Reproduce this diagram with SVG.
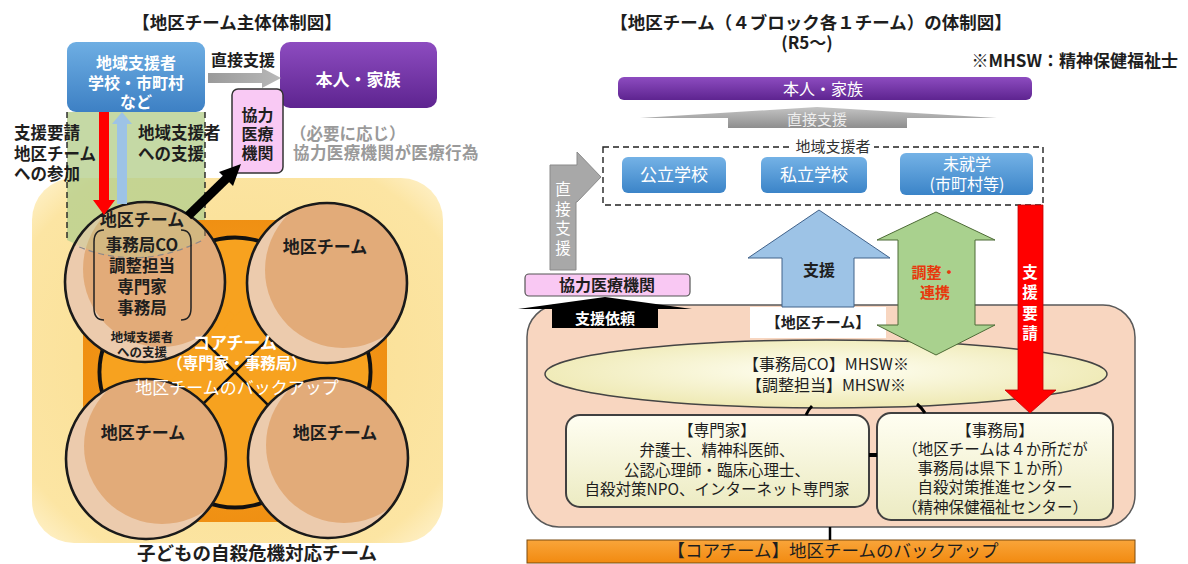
<svg xmlns="http://www.w3.org/2000/svg" width="1188" height="564" viewBox="0 0 1188 564">
<style>
.b{font-family:'Noto Sans CJK JP','Noto Sans',sans-serif;font-weight:700}
.r{font-family:'Noto Sans CJK JP','Noto Sans',sans-serif;font-weight:400}
.m{text-anchor:middle}
.w{fill:#ffffff}
.k{fill:#1e1e1e}
.dash{fill:none;stroke:#222;stroke-width:1.4;stroke-dasharray:6 4}
.dc{stroke:#1a1a1a;stroke-width:2.6;fill:none}
.lt{fill:#eccbad}
.dk{fill:#e2ab79}
.box{fill:url(#gBox);stroke:#404040;stroke-width:2}
.btn{fill:url(#gBtn)}
</style>
<defs>
<linearGradient id="gBlue" x1="0" y1="0" x2="0" y2="1"><stop offset="0" stop-color="#6eaee3"/><stop offset="1" stop-color="#3d80c4"/></linearGradient>
<linearGradient id="gPurple" x1="0" y1="0" x2="0" y2="1"><stop offset="0" stop-color="#8d4cc0"/><stop offset="1" stop-color="#5e2490"/></linearGradient>
<radialGradient id="gYellow" cx="0.5" cy="0.5" r="0.72"><stop offset="0" stop-color="#f9dc8e"/><stop offset="0.82" stop-color="#fce5a3"/><stop offset="1" stop-color="#fff5d6"/></radialGradient>
<radialGradient id="gOrange" cx="0.5" cy="0.5" r="0.7"><stop offset="0" stop-color="#f9a623"/><stop offset="1" stop-color="#ec870c"/></radialGradient>
<linearGradient id="gBtn" x1="0" y1="0" x2="0" y2="1"><stop offset="0" stop-color="#74b2e6"/><stop offset="1" stop-color="#3b84c8"/></linearGradient>
<radialGradient id="gEll" cx="0.5" cy="0.45" r="0.6"><stop offset="0" stop-color="#fffff4"/><stop offset="1" stop-color="#ede7ad"/></radialGradient>
<linearGradient id="gBox" x1="0" y1="0" x2="0" y2="1"><stop offset="0" stop-color="#fffef2"/><stop offset="1" stop-color="#ecebc2"/></linearGradient>
<linearGradient id="gGray" x1="0" y1="0" x2="0" y2="1"><stop offset="0" stop-color="#c4c4c4"/><stop offset="1" stop-color="#8e8e8e"/></linearGradient>
<linearGradient id="gGrayH" x1="0" y1="0" x2="1" y2="0"><stop offset="0" stop-color="#9a9a9a"/><stop offset="1" stop-color="#b8b8b8"/></linearGradient>
<linearGradient id="gBar" x1="0" y1="0" x2="0" y2="1"><stop offset="0" stop-color="#f9a53a"/><stop offset="1" stop-color="#f28a10"/></linearGradient>
<clipPath id="cc"><circle cx="0" cy="0" r="80"/></clipPath>
<clipPath id="ctl"><circle cx="145" cy="282" r="79"/></clipPath>
</defs>

<!-- ================= LEFT DIAGRAM ================= -->
<text class="b m k" x="237" y="29" font-size="17.5">【地区チーム主体体制図】</text>

<g id="left-team-frame">
<rect x="32" y="178" width="411" height="365" rx="42" fill="url(#gYellow)"/>
</g>

<g id="left-support-column">
<path d="M67,112 H205 V238 Q136,276 67,240 Z" fill="#b7cf8e" fill-opacity="0.8"/>
<line class="dash" x1="67" y1="112" x2="67" y2="242"/>
<line class="dash" x1="205" y1="112" x2="205" y2="232"/>
</g>

<g id="core-team">
<rect x="83" y="220" width="304" height="302" rx="46" fill="url(#gOrange)"/>
<g stroke="#111" stroke-width="5" fill="none">
<circle cx="235" cy="318" r="80"/><circle cx="180" cy="372" r="80"/><circle cx="290" cy="372" r="80"/><circle cx="235" cy="427" r="80"/>
</g>
<g fill="#f7a21f">
<circle cx="235" cy="318" r="78.6"/><circle cx="180" cy="372" r="78.6"/><circle cx="290" cy="372" r="78.6"/><circle cx="235" cy="427" r="78.6"/>
</g>
<path d="M160,297 L310,447 M310,297 L160,447" stroke="#111" stroke-width="2.6"/>
</g>

<g id="district-tl">
<g transform="translate(145,282)">
<circle class="lt" r="80"/>
<circle class="dk" cx="16" cy="-13" r="78" clip-path="url(#cc)"/>
</g>
<g clip-path="url(#ctl)">
<path d="M67,112 H205 V238 Q136,276 67,240 Z" fill="#b7cf8e" fill-opacity="0.35"/>
<path d="M70,243 Q136,274 203,240" fill="none" stroke="#8a8a8a" stroke-width="1.2" stroke-dasharray="6 4"/>
<line class="dash" x1="205" y1="200" x2="205" y2="236" stroke-opacity="0.6"/>
</g>
<circle class="dc" cx="145" cy="282" r="80"/>
<text class="b m k" x="142" y="226" font-size="17">地区チーム</text>
<path d="M104,230 Q94,230 94,242 V308 Q94,320 104,320 M181,230 Q191,230 191,242 V308 Q191,320 181,320" fill="none" stroke="#222" stroke-width="1.5"/>
<text class="b m k" x="142" y="251" font-size="16.5">事務局CO</text>
<text class="b m k" x="142" y="272" font-size="16.5">調整担当</text>
<text class="b m k" x="142" y="293" font-size="16.5">専門家</text>
<text class="b m k" x="142" y="314" font-size="16.5">事務局</text>
<text class="b m k" x="142" y="342" font-size="12.5">地域支援者</text>
<text class="b m k" x="142" y="357" font-size="12.5">への支援</text>
</g>

<g id="district-tr">
<g transform="translate(327,283)">
<circle class="lt" r="80"/>
<circle class="dk" cx="16" cy="-13" r="78" clip-path="url(#cc)"/>
<circle class="dc" r="80"/>
</g>
<text class="b m k" x="325" y="253" font-size="17">地区チーム</text>
</g>

<g id="district-bl">
<g transform="translate(146,459)">
<circle class="lt" r="80"/>
<circle class="dk" cx="16" cy="-13" r="78" clip-path="url(#cc)"/>
<circle class="dc" r="80"/>
</g>
<text class="b m k" x="143" y="439" font-size="17">地区チーム</text>
</g>

<g id="district-br">
<g transform="translate(328,458)">
<circle class="lt" r="80"/>
<circle class="dk" cx="16" cy="-13" r="78" clip-path="url(#cc)"/>
<circle class="dc" r="80"/>
</g>
<text class="b m k" x="335" y="439" font-size="17">地区チーム</text>
</g>

<g id="core-team-label">
<text class="b m w" x="235" y="349" font-size="17">コアチーム</text>
<text class="b m w" x="237" y="369" font-size="15.5">（専門家・事務局）</text>
<text class="r m w" x="237" y="394" font-size="17">地区チームのバックアップ</text>
</g>

<g id="local-supporters-left">
<rect x="67" y="42" width="138" height="70" rx="9" fill="url(#gBlue)"/>
<text class="b m w" x="136" y="69" font-size="16">地域支援者</text>
<text class="b m w" x="136" y="89" font-size="16">学校・市町村</text>
<text class="b m w" x="136" y="108" font-size="16">など</text>
</g>

<g id="person-family-left">
<rect x="280" y="42" width="157" height="66" rx="10" fill="url(#gPurple)"/>
<text class="b m w" x="358" y="86" font-size="17">本人・家族</text>
</g>

<g id="medical-left">
<rect x="232" y="89" width="51" height="84" rx="6" fill="#f9c9f4" stroke="#333" stroke-width="1.5"/>
<text class="b m k" x="257.5" y="121" font-size="16">協力</text>
<text class="b m k" x="257.5" y="140" font-size="16">医療</text>
<text class="b m k" x="257.5" y="159" font-size="16">機関</text>
</g>

<g id="medical-note">
<text class="b" x="290" y="140" font-size="16.5" fill="#9a9a9a">（必要に応じ）</text>
<text class="b" x="293" y="159" font-size="16.5" fill="#9a9a9a" letter-spacing="0.4">協力医療機関が医療行為</text>
</g>

<g id="left-connectors">
<polygon points="208,73 262,73 262,68 281,78 262,88 262,83 208,83" fill="url(#gGrayH)"/>
<text class="b m k" x="243" y="66" font-size="16">直接支援</text>
<polygon points="99,112 109,112 109,200 115,200 104,215 93,200 99,200" fill="#ff0000"/>
<polygon points="122,112 132,124 127,124 127,204 117,204 117,124 112,124" fill="#9dc3e6"/>
<text class="b k" x="14" y="139" font-size="16.5">支援要請</text>
<text class="b k" x="14" y="160" font-size="16.5">地区チーム</text>
<text class="b k" x="14" y="180" font-size="16.5">への参加</text>
<text class="b k" x="138" y="139" font-size="16.5">地域支援者</text>
<text class="b k" x="138" y="160" font-size="16.5">への支援</text>
<line x1="188" y1="216" x2="228" y2="177" stroke="#000" stroke-width="9"/>
<polygon points="241,164 233,186 219,172" fill="#000"/>
</g>

<text class="b m k" x="257" y="560" font-size="18.5">子どもの自殺危機対応チーム</text>

<!-- ================= RIGHT DIAGRAM ================= -->
<text class="b m k" x="811" y="29" font-size="17.5">【地区チーム（４ブロック各１チーム）の体制図】</text>
<text class="b m k" x="807" y="49" font-size="17">(R5～)</text>
<text class="b k" x="1178" y="67" font-size="17" text-anchor="end">※MHSW：精神保健福祉士</text>

<g id="person-family-right">
<rect x="618" y="77" width="414" height="23" rx="6" fill="url(#gPurple)"/>
<text class="r m w" x="823" y="95" font-size="16">本人・家族</text>
</g>

<g id="local-supporters-right">
<rect class="dash" x="603" y="147" width="440" height="58"/>
<rect x="792" y="140" width="82" height="14" fill="#ffffff"/>
<text class="r m" x="833" y="152" font-size="15" fill="#333">地域支援者</text>
</g>

<g id="public-school">
<rect class="btn" x="622" y="157" width="104" height="36" rx="6"/>
<text class="r m w" x="674" y="181" font-size="17">公立学校</text>
</g>
<g id="private-school">
<rect class="btn" x="761" y="157" width="106" height="36" rx="6"/>
<text class="r m w" x="814" y="181" font-size="17">私立学校</text>
</g>
<g id="preschool">
<rect class="btn" x="900" y="153" width="133" height="42" rx="6"/>
<text class="r m w" x="967" y="170" font-size="16">未就学</text>
<text class="r m w" x="967" y="190" font-size="16">(市町村等)</text>
</g>

<g id="medical-right">
<rect x="525" y="274" width="165" height="22" rx="4" fill="#f9c8f3" stroke="#555" stroke-width="1.2"/>
<text class="b m k" x="607" y="291" font-size="16">協力医療機関</text>
</g>

<g id="district-team-right">
<rect x="527" y="305" width="608" height="222" rx="32" fill="#f8d6c0" stroke="#595959" stroke-width="1.5"/>
<rect x="750" y="307" width="136" height="31" fill="#ffffff"/>
<text class="b m k" x="818" y="328" font-size="15">【地区チーム】</text>
</g>

<g id="coordinator">
<ellipse cx="826" cy="374" rx="281" ry="34" fill="url(#gEll)" stroke="#444" stroke-width="1.5"/>
<text class="r m k" x="826" y="370" font-size="16">【事務局CO】MHSW※</text>
<text class="r m k" x="826" y="391" font-size="16">【調整担当】MHSW※</text>
</g>

<g id="experts">
<rect class="box" x="566" y="415" width="303" height="92" rx="14"/>
<text class="r m k" x="717" y="436" font-size="15.5">【専門家】</text>
<text class="r m k" x="717" y="456" font-size="15.5">弁護士、精神科医師、</text>
<text class="r m k" x="717" y="476" font-size="15.5">公認心理師・臨床心理士、</text>
<text class="r m k" x="717" y="495" font-size="15.5">自殺対策NPO、インターネット専門家</text>
</g>

<g id="secretariat">
<rect class="box" x="877" y="413" width="236" height="107" rx="14"/>
<text class="r m k" x="995" y="436" font-size="15.5">【事務局】</text>
<text class="r m k" x="995" y="455" font-size="15.5">（地区チームは４か所だが</text>
<text class="r m k" x="995" y="474" font-size="15.5">事務局は県下１か所）</text>
<text class="r m k" x="995" y="493" font-size="15.5">自殺対策推進センター</text>
<text class="r m k" x="995" y="513" font-size="15.5">（精神保健福祉センター）</text>
</g>

<g id="core-team-bar">
<rect x="527" y="540" width="608" height="23" fill="url(#gBar)" stroke="#7a4a10" stroke-width="1"/>
<text class="r m k" x="833" y="557" font-size="17.5">【コアチーム】地区チームのバックアップ</text>
</g>

<g id="right-connectors">
<polygon points="640,118 817,107 997,118 907,118 907,128 728,128 728,118" fill="url(#gGray)"/>
<text class="r m" x="817" y="125" font-size="15" fill="#eeeeee">直接支援</text>
<polygon points="550,270 550,165 577,165 577,152 601,177 577,202 576,202 576,270" fill="#a8a8a8" stroke="#8a8a8a" stroke-width="1"/>
<text class="r m w" x="563" y="195" font-size="15.5">直</text>
<text class="r m w" x="563" y="214.5" font-size="15.5">接</text>
<text class="r m w" x="563" y="234" font-size="15.5">支</text>
<text class="r m w" x="563" y="253.5" font-size="15.5">援</text>
<polygon points="518,309 605,297 692,309 658,309 658,328 552,328 552,309" fill="#000"/>
<text class="b m w" x="605" y="324" font-size="15">支援依頼</text>
<polygon points="819,210 890,258 854,258 854,307 782,307 782,258 748,258" fill="#9dc3e6" stroke="#41628a" stroke-width="1"/>
<text class="b m k" x="819" y="276" font-size="16">支援</text>
<polygon points="936,212 995,240 975,240 975,325 995,325 936,355 877,325 898,325 898,240 877,240" fill="#a9d18e" stroke="#4d6b36" stroke-width="1"/>
<text class="b m" x="934" y="278" font-size="15" fill="#e8380d">調整・</text>
<text class="b m" x="935" y="298" font-size="15" fill="#e8380d">連携</text>
<path d="M812,406 Q808,410 806,415 M917,404 Q922,408 925,413" fill="none" stroke="#000" stroke-width="3"/>
<line x1="869" y1="455" x2="877" y2="455" stroke="#000" stroke-width="4"/>
<line x1="830" y1="527" x2="830" y2="540" stroke="#000" stroke-width="2.5"/>
<polygon points="1018,205 1043,205 1043,390 1056,390 1030,413 1005,390 1018,390" fill="#ff0000" stroke="#c00000" stroke-width="0.8"/>
<text class="b m w" x="1030" y="278" font-size="15.5">支</text>
<text class="b m w" x="1030" y="298" font-size="15.5">援</text>
<text class="b m w" x="1030" y="319" font-size="15.5">要</text>
<text class="b m w" x="1030" y="339" font-size="15.5">請</text>
</g>
</svg>
